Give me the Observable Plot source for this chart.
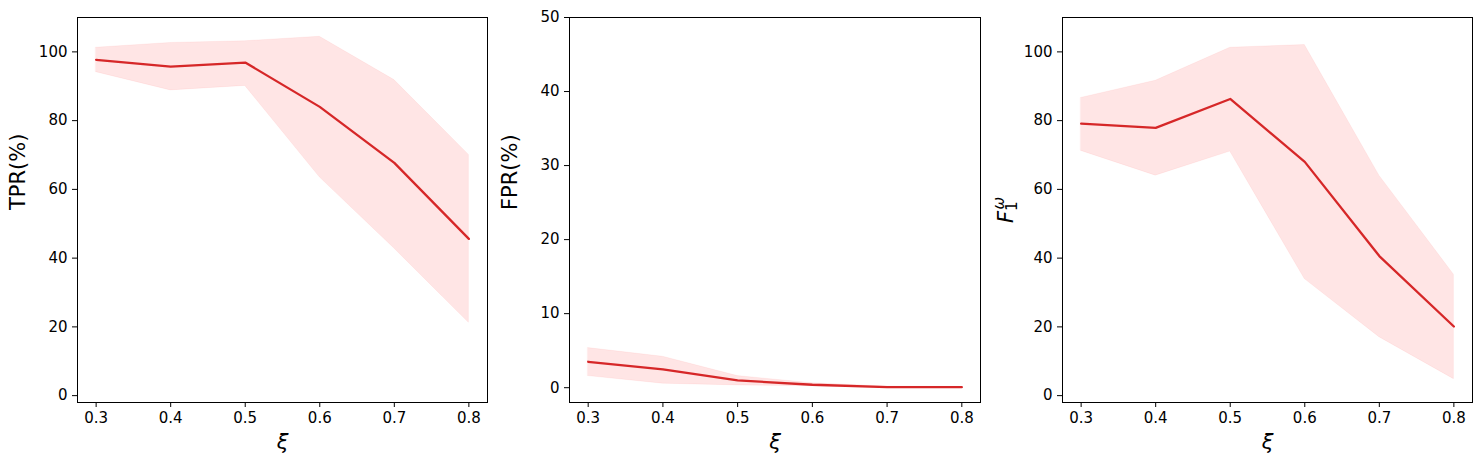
<!DOCTYPE html>
<html>
<head>
<meta charset="utf-8">
<script src="https://cdn.jsdelivr.net/npm/d3@7"></script>
<script src="https://cdn.jsdelivr.net/npm/@observablehq/plot@0.6"></script>
<style>
  html, body { margin: 0; padding: 0; background: #fff; }
  #wrap { position: relative; width: 1481px; height: 469px; font-family: "DejaVu Sans", sans-serif; }
  #wrap > svg { position: absolute; top: 0; overflow: visible; }
</style>
</head>
<body>
<div id="wrap"></div>
<script>
const xi = [0.3, 0.4, 0.5, 0.6, 0.7, 0.8];
const xTicks = [0.3, 0.4, 0.5, 0.6, 0.7, 0.8];

const tprMean  = [97.7, 95.7, 96.9, 84.0, 67.7, 45.6];
const tprLower = [94.1, 88.8, 90.1, 63.5, 42.8, 21.2];
const tprUpper = [101.2, 102.6, 103.1, 104.4, 91.8, 70.0];

const fprMean  = [3.5, 2.47, 0.99, 0.40, 0.08, 0.07];
const fprLower = [1.57, 0.54, 0.31, 0.2, 0.0, 0.0];
const fprUpper = [5.35, 4.18, 1.57, 0.6, 0.15, 0.1];

const f1Mean  = [79.1, 77.9, 86.3, 68.0, 40.6, 20.1];
const f1Lower = [71.2, 64.0, 71.0, 33.9, 17.0, 4.8];
const f1Upper = [86.6, 91.6, 101.2, 102.0, 64.0, 35.2];

const yTicksA = [0, 20, 40, 60, 80, 100];
const yTicksB = [0, 10, 20, 30, 40, 50];

const lineColor = "#d62728";
const bandColor = "#ff0000";

function panel({mean, lower, upper, yDomain, yTicks, yLabel, left, width, mL, mR, labelDx}) {
  const data = xi.map((x, i) => ({x, mean: mean[i], lo: lower[i], hi: upper[i]}));
  const marks = [
    Plot.areaY(data, {x: "x", y1: "lo", y2: "hi", fill: bandColor, fillOpacity: 0.1, stroke: bandColor, strokeOpacity: 0.05, strokeWidth: 1}),
    Plot.lineY(data, {x: "x", y: "mean", stroke: lineColor, strokeWidth: 2.3}),
    Plot.frame({stroke: "black", strokeWidth: 1}),
    Plot.axisX({ticks: xTicks, tickSize: 5, tickPadding: 5, fontSize: 15, label: null, tickFormat: d3.format(".1f")}),
    Plot.axisY({ticks: yTicks, tickSize: 5, tickPadding: 5, fontSize: 15, label: null}),
    Plot.text(["ξ"], {frameAnchor: "bottom", dy: 46, fontSize: 21, fontStyle: "italic", fill: "black"})
  ];
  if (yLabel) {
    marks.push(Plot.text([yLabel], {frameAnchor: "left", dx: labelDx, rotate: -90, fontSize: 21, fill: "black"}));
  }
  const svg = Plot.plot({
    width, height: 469,
    marginLeft: mL, marginRight: mR, marginTop: 17, marginBottom: 67,
    style: {fontFamily: "DejaVu Sans", background: "transparent", color: "black", overflow: "visible"},
    x: {domain: [0.275, 0.825]},
    y: {domain: yDomain},
    marks
  });
  svg.style.left = left + "px";
  document.getElementById("wrap").appendChild(svg);
  return svg;
}

panel({mean: tprMean, lower: tprLower, upper: tprUpper, yDomain: [-2, 110], yTicks: yTicksA,
       yLabel: "TPR(%)", left: 0, width: 495, mL: 77, mR: 8, labelDx: -59});
panel({mean: fprMean, lower: fprLower, upper: fprUpper, yDomain: [-2, 50], yTicks: yTicksB,
       yLabel: "FPR(%)", left: 495, width: 495, mL: 74, mR: 10, labelDx: -59});
const s3 = panel({mean: f1Mean, lower: f1Lower, upper: f1Upper, yDomain: [-2, 110], yTicks: yTicksA,
       yLabel: null, left: 980, width: 501, mL: 82, mR: 9});

// F_1^ω label (math style) on third panel
const t = d3.select(s3).append("text")
  .attr("transform", "translate(33,210) rotate(-90)")
  .attr("text-anchor", "middle")
  .attr("font-family", "DejaVu Sans")
  .attr("font-size", 21)
  .attr("fill", "black");
t.append("tspan").attr("font-style", "italic").text("F");
t.append("tspan").attr("font-size", 15).attr("dy", 4).text("1");
t.append("tspan").attr("font-size", 15).attr("font-style", "italic").attr("dx", -8).attr("dy", -13).text("ω");
</script>
</body>
</html>
